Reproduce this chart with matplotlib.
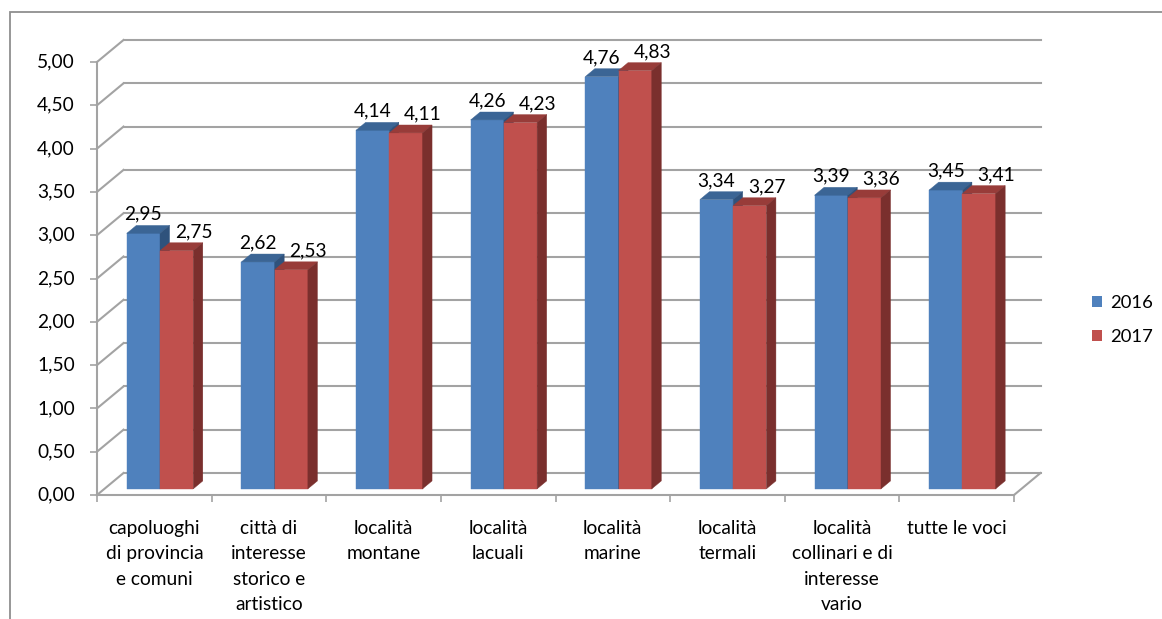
import matplotlib
matplotlib.use('Agg')
import numpy as np
import matplotlib.pyplot as plt
from matplotlib.patches import Polygon, Rectangle
from matplotlib.lines import Line2D
from matplotlib.transforms import IdentityTransform

categories = ['capoluoghi\ndi provincia\ne comuni',
              'città di\ninteresse\nstorico e\nartistico',
              'località\nmontane',
              'località\nlacuali',
              'località\nmarine',
              'località\ntermali',
              'località\ncollinari e di\ninteresse\nvario',
              'tutte le voci']
val_2016 = [2.95, 2.62, 4.14, 4.26, 4.76, 3.34, 3.39, 3.45]
val_2017 = [2.75, 2.53, 4.11, 4.23, 4.83, 3.27, 3.36, 3.41]
years = ['2016', '2017']
yticks = [0.0, 0.5, 1.0, 1.5, 2.0, 2.5, 3.0, 3.5, 4.0, 4.5, 5.0]

# front / top / side shades of the two series
BLUE = ('#4f81bd', '#3b6595', '#2f527c')
RED = ('#c0504d', '#983c39', '#7a2f2d')
GRID = '#a3a3a3'
FS = 13.8

plt.rcParams['font.family'] = ['Lato', 'DejaVu Sans']

fig = plt.figure(figsize=(11.62, 6.19), dpi=100)
ax = fig.add_axes([97 / 1162, 124 / 619, 917 / 1162, 433 / 619])
ax.set_xlim(-0.5, len(categories) - 0.5)
ax.set_ylim(0, 5)
ax.patch.set_visible(False)

# depth of the 3d box in display pixels
DEPTH = np.array([26.5, 22.0])
BAR_D0, BAR_D1 = 0.28, 0.64
BAR_W = 0.29


def proj(x, y, d):
    p = ax.transData.transform((x, y))
    return p + d * DEPTH


def face(pts, color, z):
    ax.add_patch(Polygon(pts, closed=True, facecolor=color, edgecolor=color,
                         lw=0.3, transform=IdentityTransform(),
                         clip_on=False, zorder=z))


def line(p, q, z=1):
    ax.add_line(Line2D([p[0], q[0]], [p[1], q[1]], color=GRID, lw=1.5,
                       transform=IdentityTransform(), clip_on=False, zorder=z))


x0, x1 = ax.get_xlim()
# back wall gridlines and their links to the front axis
for t in yticks:
    line(proj(x0, t, 0), proj(x0, t, 1))
    line(proj(x0, t, 1), proj(x1, t, 1))
    # value axis labels
    p = proj(x0, t, 0)
    ax.text(p[0] - 22, p[1], f'{t:.2f}'.replace('.', ','),
            transform=IdentityTransform(), ha='right', va='center',
            fontsize=FS, clip_on=False)
# floor right edge
line(proj(x1, 0, 0), proj(x1, 0, 1))


def bar3d(xl, h, colors):
    xr = xl + BAR_W
    front, top, side = colors
    face([proj(xl, 0, BAR_D0), proj(xr, 0, BAR_D0),
          proj(xr, h, BAR_D0), proj(xl, h, BAR_D0)], front, 3)
    face([proj(xl, h, BAR_D0), proj(xr, h, BAR_D0),
          proj(xr, h, BAR_D1), proj(xl, h, BAR_D1)], top, 3)
    face([proj(xr, 0, BAR_D0), proj(xr, 0, BAR_D1),
          proj(xr, h, BAR_D1), proj(xr, h, BAR_D0)], side, 3)


def value_label(xc, h, dx):
    p = proj(xc, h, BAR_D0)
    ax.text(p[0] + dx, p[1] + 19, f'{h:.2f}'.replace('.', ','),
            transform=IdentityTransform(), ha='center', va='center',
            fontsize=FS, zorder=6, clip_on=False)


for i in range(len(categories)):
    bar3d(i - BAR_W - 0.015, val_2016[i], BLUE)
    bar3d(i - 0.015, val_2017[i], RED)
    value_label(i - BAR_W / 2 - 0.015, val_2016[i], 0)
    value_label(i + BAR_W / 2 - 0.015, val_2017[i], 17)

# axes styling
for s in ['top', 'right']:
    ax.spines[s].set_visible(False)
for s in ['left', 'bottom']:
    ax.spines[s].set_color(GRID)
    ax.spines[s].set_linewidth(1.5)

ax.set_yticks(yticks, labels=[])
ax.tick_params(axis='y', direction='out', length=5, width=1.2, color=GRID)
ax.set_xticks(np.arange(-0.5, len(categories), 1.0), labels=[])
ax.tick_params(axis='x', which='major', direction='out', length=5, width=1.2,
               color=GRID)
ax.set_xticks(np.arange(len(categories)), labels=categories, minor=True)
ax.tick_params(axis='x', which='minor', length=0, pad=18, labelsize=FS)
for lab in ax.get_xticklabels(minor=True):
    lab.set_linespacing(1.6)

handles = [Rectangle((0, 0), 1, 1, facecolor=BLUE[0]),
           Rectangle((0, 0), 1, 1, facecolor=RED[0])]
ax.legend(handles, years, loc='center left',
          bbox_to_anchor=(1075 / 1162, (619 - 320) / 619),
          bbox_transform=fig.transFigure, frameon=False, fontsize=FS - 0.5,
          handlelength=0.55, handleheight=0.55, handletextpad=0.45,
          labelspacing=1.0)

# chart area frame
fig.add_artist(Rectangle((10, -10), 1200, 617, fill=False, edgecolor='#8f8f8f',
                         lw=1.3, transform=IdentityTransform()))

fig.savefig('out.png', dpi=100)
